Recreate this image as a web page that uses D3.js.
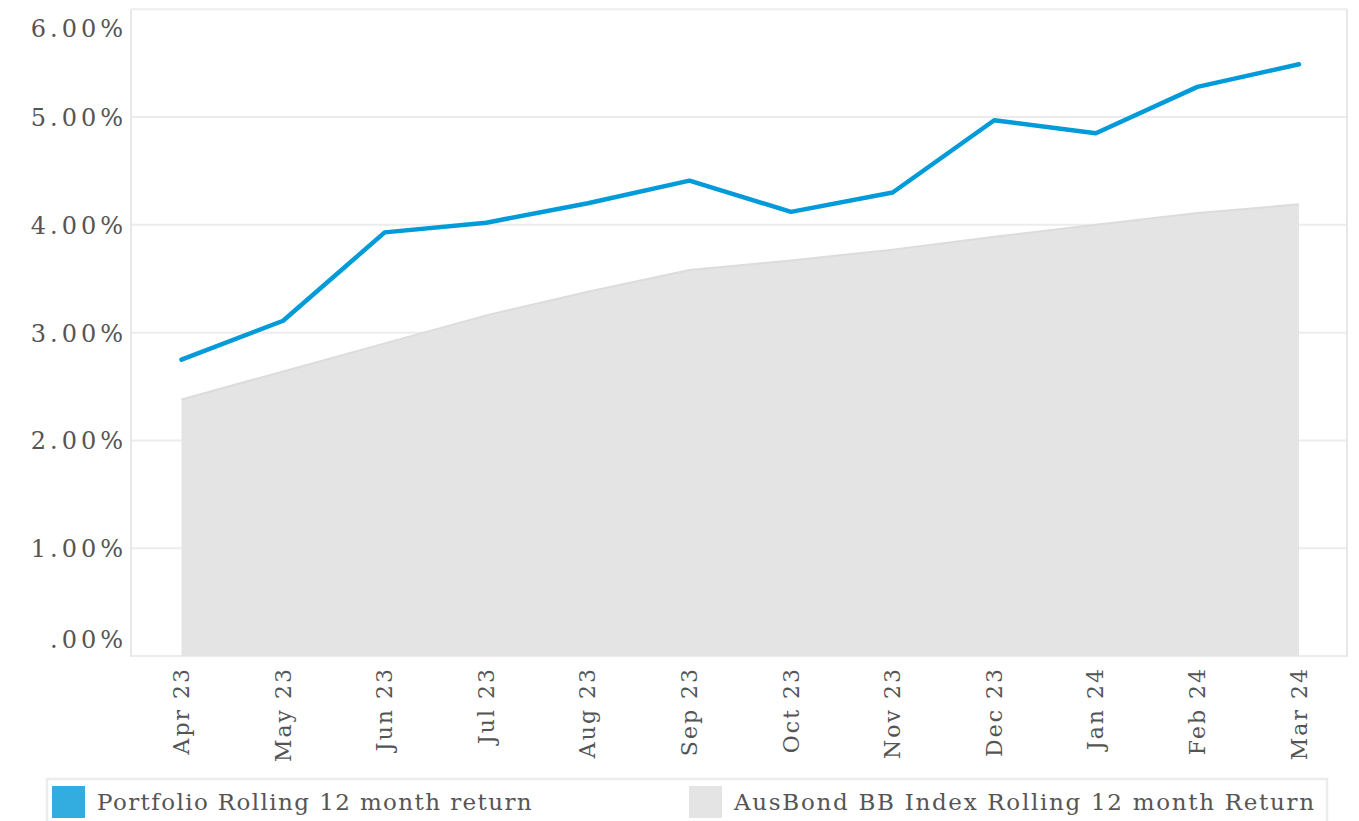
<!DOCTYPE html>
<html><head><meta charset="utf-8">
<script src="https://cdn.jsdelivr.net/npm/d3@7"></script>
<style>body{margin:0;background:#fff;} svg{display:block;}</style>
</head><body>
<svg id="c" width="1359" height="821"></svg>
<script>
const months = ["Apr 23","May 23","Jun 23","Jul 23","Aug 23","Sep 23","Oct 23","Nov 23","Dec 23","Jan 24","Feb 24","Mar 24"];
const portfolio = [2.75,3.11,3.93,4.02,4.20,4.41,4.12,4.30,4.97,4.85,5.28,5.49];
const benchmark = [2.38,2.64,2.90,3.16,3.38,3.58,3.67,3.77,3.89,4.00,4.11,4.19];
const yTicks = [0,1,2,3,4,5,6];
const yTickLabels = [".00%","1.00%","2.00%","3.00%","4.00%","5.00%","6.00%"];
const seriesNames = ["Portfolio Rolling 12 month return","AusBond BB Index Rolling 12 month Return"];

const FONT = "'DejaVu Serif', serif";
const svg = d3.select("#c");
const L = 131, R = 1347, T = 9.25, B = 656;
const x = d3.scalePoint().domain(months).range([181.5, 1299]).padding(0);
const y = d3.scaleLinear().domain([0, 6]).range([B, T]);

// gridlines
svg.append("g").selectAll("line").data(yTicks).join("line")
  .attr("x1", L).attr("x2", R).attr("y1", d => y(d)).attr("y2", d => y(d))
  .attr("stroke", "#ececec").attr("stroke-width", 2);
// frame sides
svg.append("line").attr("x1", L).attr("x2", L).attr("y1", T).attr("y2", B + 1)
  .attr("stroke", "#e8e8e8").attr("stroke-width", 2);
svg.append("line").attr("x1", R).attr("x2", R).attr("y1", T).attr("y2", B + 1)
  .attr("stroke", "#e8e8e8").attr("stroke-width", 2);

// area
const area = d3.area().x((d, i) => x(months[i])).y0(y(0)).y1(d => y(d));
svg.append("path").datum(benchmark).attr("d", area).attr("fill", "#e4e4e4");
svg.append("path").datum(benchmark)
  .attr("d", d3.line().x((d, i) => x(months[i])).y(d => y(d)))
  .attr("fill", "none").attr("stroke", "#dcdcdc").attr("stroke-width", 2);

// portfolio line
svg.append("path").datum(portfolio)
  .attr("d", d3.line().x((d, i) => x(months[i])).y(d => y(d)))
  .attr("fill", "none").attr("stroke", "#009bd8").attr("stroke-width", 4.5)
  .attr("stroke-linejoin", "round").attr("stroke-linecap", "round");

// y labels
svg.append("g").selectAll("text").data(yTicks).join("text")
  .attr("x", 127)
  .attr("y", d => Math.max(29, Math.min(640, y(d) + 1)))
  .attr("text-anchor", "end").attr("dominant-baseline", "central")
  .attr("font-family", FONT).attr("font-size", 24).attr("fill", "#555")
  .attr("letter-spacing", 4)
  .text((d, i) => yTickLabels[i]);

// x labels
svg.append("g").selectAll("text").data(months).join("text")
  .attr("transform", d => `translate(${x(d)},667) rotate(-90)`)
  .attr("text-anchor", "end").attr("dominant-baseline", "central")
  .attr("font-family", FONT).attr("font-size", 22).attr("fill", "#555")
  .attr("letter-spacing", 2)
  .text(d => d);

// legend
svg.append("rect").attr("x", 47).attr("y", 779).attr("width", 1280).attr("height", 50)
  .attr("fill", "none").attr("stroke", "#ececec").attr("stroke-width", 2.5);
const leg = [{x: 52, c: "#33addf"}, {x: 689, c: "#e4e4e4"}];
leg.forEach((l, i) => {
  svg.append("text").attr("x", l.x + 45).attr("y", 802).attr("dominant-baseline", "central")
    .attr("font-family", FONT).attr("font-size", 23).attr("fill", "#555")
    .attr("letter-spacing", i === 0 ? 1.4 : 1.7)
    .text(seriesNames[i]);
  svg.append("rect").attr("x", l.x).attr("y", 786).attr("width", 33).attr("height", 32).attr("fill", l.c);
});
</script>
</body></html>
